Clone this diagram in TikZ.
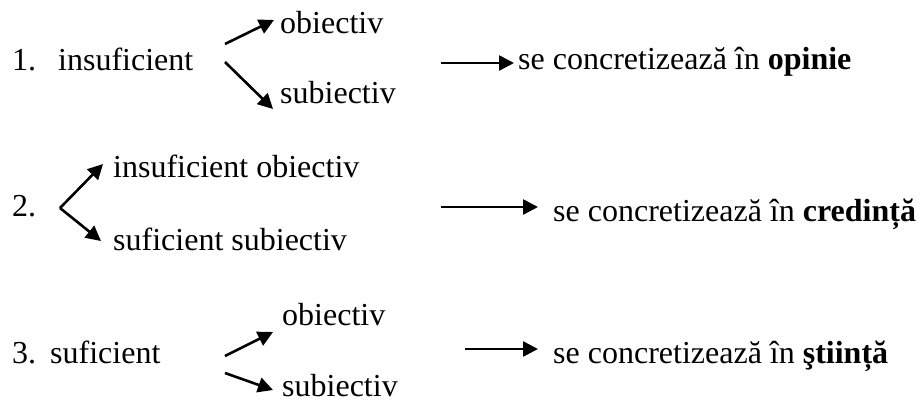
\documentclass[tikz,border=0pt]{standalone}
\usepackage{fontspec}
\setmainfont{Liberation Serif}
\usetikzlibrary{arrows.meta}

\tikzset{
  txt/.style={anchor=base west, inner sep=0pt, font=\fontsize{32}{38}\selectfont},
  arr/.style={line width=2.6pt, -{Triangle[length=15pt,width=15pt]}},
}

\begin{document}
\begin{tikzpicture}[x=1pt,y=-1pt]
\useasboundingbox (0,0) rectangle (920,402);

% 1. insuficient
\node[txt] (num1) at (12,70) {1.};
\node[txt] (insuf1) at (58,70) {insuficient};
\node[txt] (ob1) at (280,33) {obiectiv};
\node[txt] (sub1) at (280,103) {subiectiv};
\node[txt] (conc1) at (518,69) {se concretizează în \textbf{opinie}};
\coordinate (s1a) at (225,44);
\coordinate (t1a) at (274,20);
\coordinate (s1b) at (225,62);
\coordinate (t1b) at (273,109);
\coordinate (h1) at (441,63);
\coordinate (e1) at (514,63);
\draw[arr](s1a) -- (t1a);
\draw[arr](s1b) -- (t1b);
\draw[arr](h1) -- (e1);

% 2. insuficient obiectiv / suficient subiectiv
\node[txt] (num2) at (12,216) {2.};
\node[txt] (ob2) at (113,177) {insuficient obiectiv};
\node[txt] (sub2) at (113,250) {suficient subiectiv};
\node[txt] (conc2) at (553,221) {se concretizează în \textbf{credință}};
\coordinate (s2) at (60,208);
\coordinate (t2a) at (103,164);
\coordinate (t2b) at (101,241);
\coordinate (h2) at (441,207);
\coordinate (e2) at (538,207);
\draw[arr](s2) -- (t2a);
\draw[arr](s2) -- (t2b);
\draw[arr](h2) -- (e2);

% 3. suficient
\node[txt] (num3) at (12,363) {3.};
\node[txt] (suf3) at (50,363) {suficient};
\node[txt] (ob3) at (282,325) {obiectiv};
\node[txt] (sub3) at (282,396) {subiectiv};
\node[txt] (conc3) at (553,363) {se concretizează în \textbf{ştiință}};
\coordinate (s3a) at (225,356);
\coordinate (t3a) at (273,332);
\coordinate (s3b) at (225,373);
\coordinate (t3b) at (273,390);
\coordinate (h3) at (465,349);
\coordinate (e3) at (538,349);
\draw[arr](s3a) -- (t3a);
\draw[arr](s3b) -- (t3b);
\draw[arr](h3) -- (e3);
\end{tikzpicture}
\end{document}
